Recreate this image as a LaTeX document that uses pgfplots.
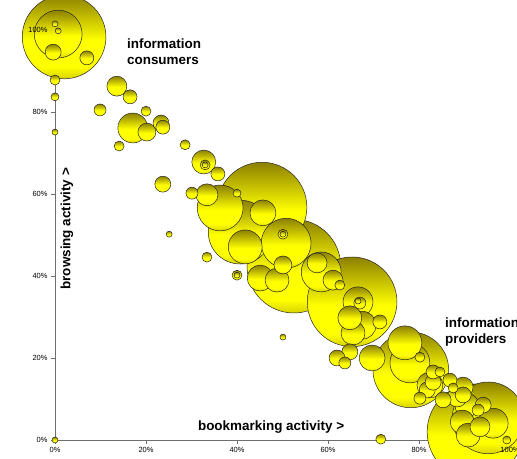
\documentclass[border=0pt]{standalone}
\usepackage{fontspec}
\setmainfont{Liberation Sans}
\usepackage{pgfplots}
\usepackage{pgfplotstable}
\pgfplotsset{compat=1.18}
\usetikzlibrary{calc}

\definecolor{bubtop}{RGB}{140,128,0}
\definecolor{bubmid}{RGB}{255,255,0}
\definecolor{bubbot}{RGB}{215,210,0}
\definecolor{axgray}{RGB}{110,110,110}

\pgfdeclareverticalshading{bubbleshade}{100bp}{%
  color(0bp)=(bubbot); color(25bp)=(bubbot); color(32bp)=(bubmid);
  color(48bp)=(bubmid); color(75bp)=(bubtop); color(100bp)=(bubtop)}

\pgfdeclareplotmark{bubble}{%
  \pgfpathcircle{\pgfpointorigin}{\pgfplotmarksize}%
  \pgfshadepath{bubbleshade}{0}%
  \pgfusepathqstroke
}

\pgfplotsset{
  myframe/.style={
    x=4.55bp, y=4.1bp,
    xmin=0, xmax=100, ymin=0, ymax=100,
    clip=false,
    axis x line*=bottom, axis y line*=left,
    tick align=outside, major tick length=4bp,
    xtick={0,20,40,60,80,100}, ytick={0,20,40,60,80,100},
    ticklabel style={font=\fontsize{7.5}{9}\selectfont, text=black},
    /pgf/number format/assume math mode=true,
  }
}

\pgfplotstableread{
x y r
92.3 2.0 48
52.5 42.4 47
45.5 56.8 45
65.3 33.7 45
2.0 98.3 42
78.2 17.1 38
95.2 5.4 36
40.7 50.7 32
50.8 48.0 25
0.7 99.0 24
36.3 56.6 23
58.5 41.0 20
78.0 18.8 20
76.9 23.7 17
41.8 47.1 17
17.1 76.1 15
66.6 33.7 15
96.3 4.1 15
67.5 28.0 14
45.7 55.4 13
45.1 39.5 13
69.7 20.0 13
82.4 13.4 13
32.7 67.8 12
48.8 39.0 12
65.5 26.1 12
64.8 29.8 12
90.5 8.5 12
89.5 4.4 12
90.8 1.2 12
33.4 59.8 11
13.6 86.3 10
57.6 43.2 10
61.1 39.0 10
88.4 10.5 10
89.7 12.9 10
93.4 3.2 10
50.1 42.7 9
20.2 75.1 9
23.3 77.3 8
23.7 62.4 8
64.8 21.5 8
62.0 20.0 8
81.8 12.2 8
85.3 9.8 8
89.7 11.0 8
94.1 8.5 8
-0.4 94.6 8
83.1 14.1 8
23.7 76.3 7
7.0 93.2 7
16.5 83.7 7
35.8 64.9 7
71.4 28.8 7
86.8 14.6 7
83.1 16.6 7
9.9 80.5 6
30.1 60.2 6
63.7 18.8 6
80.2 10.2 6
93.0 7.3 6
67.0 33.4 6
0.0 87.8 5
20.0 80.2 5
14.1 71.7 5
28.6 72.0 5
33.4 44.6 5
40.0 40.2 5
62.6 37.8 5
80.2 20.2 5
84.6 16.6 5
87.5 12.7 5
71.6 0.2 5
33.0 67.1 5
50.1 50.2 5
0.0 83.7 4
40.0 60.2 4
99.3 0.0 4
0.0 75.1 3
25.1 50.2 3
50.1 25.1 3
33.0 67.1 3
50.1 50.2 3
66.6 33.9 3
40.0 40.2 3
0.0 101.5 3
0.7 99.8 3
0.0 0.0 3
}\bubbles

\begin{document}
\begin{tikzpicture}
\begin{axis}[
  myframe,
  axis line style={axgray, line width=0.8pt},
  tick style={axgray, line width=0.8pt},
  xticklabels={}, yticklabels={},
]
\coordinate (ll) at (axis cs:0,0);
\addplot[scatter, only marks, mark=bubble, line width=0.5pt,
  scatter/use mapped color={draw=black!85},
  visualization depends on={\thisrow{r} \as \rad},
  scatter/@pre marker code/.append style={/tikz/mark size=\rad}]
  table[x=x, y=y] {\bubbles};
\node[anchor=north west, align=left, font=\fontsize{13.5}{16}\selectfont\bfseries, inner sep=0pt]
  at (axis cs:15.8,98.0) {information\\consumers};
\node[anchor=north west, align=left, font=\fontsize{13.5}{16}\selectfont\bfseries, inner sep=0pt]
  at (axis cs:85.7,29.8) {information\\providers};
\node[rotate=90, font=\fontsize{13.5}{16}\selectfont\bfseries, inner sep=0pt]
  at (axis cs:2.6,51.5) {browsing activity >};
\node[font=\fontsize{13.5}{16}\selectfont\bfseries, inner sep=0pt]
  at (axis cs:47.5,3.2) {bookmarking activity >};
\end{axis}
\begin{axis}[
  myframe,
  axis line style={draw=none},
  tick style={draw=none},
  xticklabels={0\%,20\%,40\%,60\%,80\%,100\%},
  yticklabels={0\%,20\%,40\%,60\%,80\%,100\%},
]
\end{axis}
\pgfresetboundingbox
\useasboundingbox ($(ll)+(-55bp,-19bp)$) rectangle ($(ll)+(462bp,440bp)$);
\end{tikzpicture}
\end{document}
